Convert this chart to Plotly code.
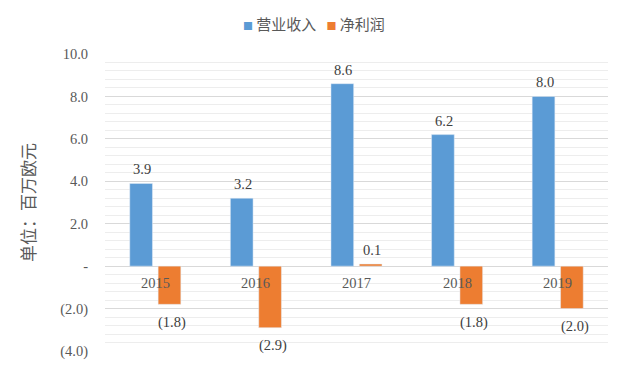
import plotly.graph_objects as go

categories = ["2015", "2016", "2017", "2018", "2019"]
revenue = [3.9, 3.2, 8.6, 6.2, 8.0]
net_profit = [-1.8, -2.9, 0.1, -1.8, -2.0]
series_names = ["营业收入", "净利润"]
series_colors = ["#5B9BD5", "#ED7D31"]
y_tickvals = [-4, -2, 0, 2, 4, 6, 8, 10]
y_ticktext = ["(4.0)", "(2.0)", "-", "2.0", "4.0", "6.0", "8.0", "10.0"]
y_title = "单位：百万欧元"


def fmt(v):
    return f"({abs(v):.1f})" if v < 0 else f"{v:.1f}"


serif = "Liberation Serif, Times New Roman, serif"
cjk = "Noto Sans CJK SC, sans-serif"
BARGAP = 0.436
BARGROUPGAP = 0.2
# the browser page has an 8px body margin: the figure is sized to fill the rest
W, H = 613, 364

fig = go.Figure()
for name, vals, col in zip(series_names, [revenue, net_profit], series_colors):
    fig.add_trace(go.Bar(
        x=categories, y=vals, name=name, marker_color=col,
        showlegend=False, cliponaxis=False,
    ))

# value labels, placed at each bar's end through the axes
half_slot = (1 - BARGAP) / 4
for s, vals in enumerate([revenue, net_profit]):
    off = -half_slot if s == 0 else half_slot
    for i, v in enumerate(vals):
        fig.add_annotation(
            x=i + off, y=v, text=fmt(v), showarrow=False,
            yanchor="middle", yshift=14 if v >= 0 else -18,
            xshift=1 if v >= 0 else 3,
            font=dict(family=serif, size=14.5, color="#404040"),
        )

# category labels sit just under the zero line
for i, c in enumerate(categories):
    fig.add_annotation(x=i, y=0, text=c, showarrow=False, yanchor="middle",
                       yshift=-17, font=dict(family=serif, size=14.5, color="#595959"))

legend_text = "&nbsp;&nbsp;&nbsp;".join(
    f"<span style='color:{col};font-size:10px'>■</span>&nbsp;{name}"
    for name, col in zip(series_names, series_colors)
)
fig.add_annotation(xref="paper", yref="paper", x=0.4155, y=1.0, yshift=31,
                   xanchor="center", yanchor="middle", showarrow=False,
                   text=legend_text, font=dict(family=cjk, size=15, color="#595959"))

fig.update_layout(
    width=W, height=H,
    margin=dict(l=97, r=13, t=46, b=17),
    paper_bgcolor="white", plot_bgcolor="white",
    barmode="group", bargap=BARGAP, bargroupgap=BARGROUPGAP,
    showlegend=False,
    xaxis=dict(type="category", range=[-0.5, len(categories) - 0.5],
               showticklabels=False, showgrid=False, zeroline=False, showline=False),
    yaxis=dict(
        range=[-4, 10], tickvals=y_tickvals, ticktext=y_ticktext,
        tickfont=dict(family=serif, size=14.5, color="#595959"),
        showgrid=True, gridcolor="#D9D9D9", gridwidth=1, zeroline=False,
        ticks="", ticklabelstandoff=16,
        minor=dict(tickmode="linear", tick0=0, dtick=0.4, showgrid=True,
                   gridcolor="#EDEDED", gridwidth=1),
        title=dict(text=y_title, font=dict(family=cjk, size=17, color="#595959"),
                   standoff=20),
    ),
)

fig.write_html("out.html")
